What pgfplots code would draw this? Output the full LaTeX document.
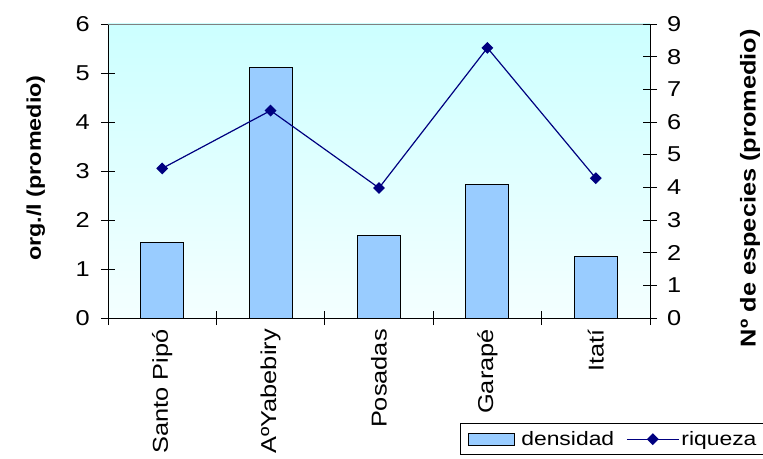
\documentclass[border=0pt]{standalone}
\usepackage{fontspec}
\setmainfont{Liberation Sans}[FakeStretch=1.18]
\usepackage{pgfplots}
\pgfplotsset{compat=1.18}
\definecolor{barfill}{HTML}{99CCFF}
\definecolor{navyline}{HTML}{000080}
\definecolor{bgtop}{HTML}{CCFFFF}
\definecolor{bgbot}{HTML}{F4FFFF}
\newcommand{\fs}{\fontsize{21.5bp}{25bp}\selectfont}
\newcommand{\fsl}{\fontsize{19.8bp}{24bp}\selectfont}
\newcommand{\fsg}{\fontsize{19.4bp}{23bp}\selectfont}
\pgfplotsset{
  barleg/.style={legend image code/.code={\draw[##1] (0bp,-6bp) rectangle (46bp,6bp);}},
  lineleg/.style={legend image code/.code={\draw[##1, mark repeat=2, mark phase=2] plot coordinates {(0bp,0bp) (26bp,0bp) (52bp,0bp)};}},
}
\begin{document}
\begin{tikzpicture}
\useasboundingbox (-108bp,-141bp) rectangle (655bp,318bp);
\begin{axis}[
  at={(0,0)}, anchor=south west,
  scale only axis, width=542bp, height=294bp,
  xmin=-0.5, xmax=4.5, ymin=0, ymax=6,
  axis x line*=bottom, axis y line*=left,
  axis line style={black, line width=0.9pt},
  axis background/.style={top color=bgtop, bottom color=bgbot},
  xtick={-0.5,0.5,1.5,2.5,3.5,4.5},
  x tick label as interval=true,
  xticklabels={Santo Pipó,AºYabebiry,Posadas,Garapé,Itatí},
  ytick={0,1,...,6},
  tick align=center, major tick length=14bp,
  tick style={black, line width=0.9pt},
  /pgf/number format/assume math mode=true,
  ticklabel style={font=\fs},
  xticklabel style={rotate=90, anchor=east, inner sep=0pt, xshift=-4bp},
  yticklabel style={anchor=east, inner sep=0pt, xshift=-11bp},
  ylabel={\textbf{org./l (promedio)}},
  ylabel style={font=\fsl, at={(axis description cs:-0.133,0.51)}, anchor=center},
  legend columns=2,
  legend style={at={(rel axis cs:0.6494,-0.357)}, anchor=north west,
    draw=black, line width=0.9pt, font=\fsg, inner xsep=8bp, inner ysep=6bp,
    /tikz/every even column/.append style={column sep=10bp}},
]
\draw[gray, line width=0.9pt] (rel axis cs:0,1) -- (rel axis cs:1,1);
\addplot[ybar, bar width=43bp, fill=barfill, draw=black, line width=0.9pt, barleg]
  coordinates {(0,1.55) (1,5.11) (2,1.68) (3,2.72) (4,1.25)};
\addlegendentry{\hspace{4bp}densidad}
\addlegendimage{navyline, line width=1.2pt, mark=square*, mark size=3.6bp,
  mark options={rotate=45, fill=navyline}, lineleg}
\addlegendentry{riqueza}
\end{axis}
\begin{axis}[
  at={(0,0)}, anchor=south west,
  scale only axis, width=542bp, height=294bp,
  xmin=-0.5, xmax=4.5, ymin=0, ymax=9,
  axis x line=none, axis y line*=right,
  axis line style={black, line width=0.9pt},
  ytick={0,1,...,9},
  tick align=center, major tick length=14bp,
  tick style={black, line width=0.9pt},
  /pgf/number format/assume math mode=true,
  ticklabel style={font=\fs},
  yticklabel style={anchor=west, inner sep=0pt, xshift=10bp},
  ylabel={\textbf{Nº de especies (promedio)}},
  ylabel style={font=\fs, at={(axis description cs:1.1845,0.442)}, anchor=center},
]
\addplot[navyline, line width=1.2pt, mark=square*, mark size=3.6bp,
  mark options={rotate=45, fill=navyline}]
  coordinates {(0,4.58) (1,6.35) (2,3.98) (3,8.27) (4,4.28)};
\end{axis}
\end{tikzpicture}
\end{document}
